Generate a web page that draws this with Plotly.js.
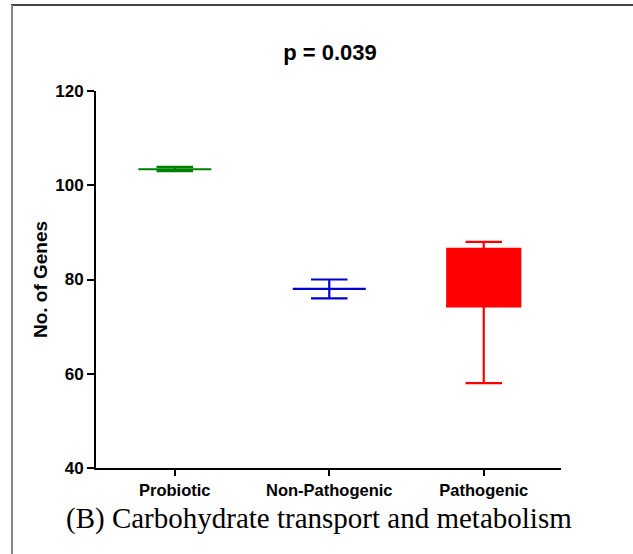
<!DOCTYPE html>
<html>
<head>
<meta charset="utf-8">
<script src="https://cdn.plot.ly/plotly-3.0.1.min.js"></script>
<style>html,body{margin:0;padding:0;background:#fff;}#chart{width:633px;height:554px;}</style>
</head>
<body>
<div id="chart"></div>
<script>
// Data
const categories = ["Probiotic", "Non-Pathogenic", "Pathogenic"];
const q1Values = [103.4, 78, 74.3];
const medianValues = [103.4, 78, 85];
const q3Values = [103.4, 78, 86.5];
const lowerWhisker = [103.0, 76, 58];
const upperWhisker = [103.9, 80, 88];
const colors = ["#008000", "#0000CC", "#FF0000"];
const yTicks = [40, 60, 80, 100, 120];

const traces = categories.map((c, i) => ({
  type: "box",
  x: [c],
  q1: [q1Values[i]],
  median: [medianValues[i]],
  q3: [q3Values[i]],
  lowerfence: [lowerWhisker[i]],
  upperfence: [upperWhisker[i]],
  line: {color: colors[i], width: 2.2},
  fillcolor: colors[i],
  whiskerwidth: 0.5,
  boxpoints: false,
  hoverinfo: "skip",
  showlegend: false
}));

// paper coords for frame lines
const W = 465, H = 377, L = 96, B = 468;
const px = v => (v - L) / W;
const py = v => (B - v) / H;

const sans = "Liberation Sans, Arial, sans-serif";

const layout = {
  width: 633,
  height: 554,
  margin: {l: 96, r: 72, t: 91, b: 86},
  paper_bgcolor: "#ffffff",
  plot_bgcolor: "#ffffff",
  boxgap: 0.325,
  font: {family: sans, color: "#000"},
  title: {
    text: "p = 0.039",
    font: {size: 22, family: sans, weight: "bold", color: "#000"},
    x: 330 / 633, xanchor: "center",
    y: 1 - 52 / 554, yanchor: "middle"
  },
  xaxis: {
    type: "category",
    range: [-0.51, 2.5],
    showline: true, linecolor: "#000", linewidth: 2,
    ticks: "outside", ticklen: 6, tickwidth: 2, tickcolor: "#000",
    showgrid: false, zeroline: false,
    tickfont: {size: 16.5, family: sans, weight: "bold", color: "#000"}
  },
  yaxis: {
    range: [40, 120],
    tickvals: yTicks,
    showline: true, linecolor: "#000", linewidth: 2,
    ticks: "outside", ticklen: 7, tickwidth: 2, tickcolor: "#000",
    showgrid: false, zeroline: false,
    tickfont: {size: 17, family: sans, weight: "bold", color: "#000"},
    title: {
      text: "No. of Genes",
      font: {size: 19, family: sans, weight: "bold", color: "#000"},
      standoff: 3
    }
  },
  shapes: [
    {type: "line", xref: "paper", yref: "paper", x0: px(11), x1: px(640), y0: py(5), y1: py(5), line: {color: "#444", width: 2}},
    {type: "line", xref: "paper", yref: "paper", x0: px(12), x1: px(12), y0: py(5), y1: py(560), line: {color: "#888", width: 2}}
  ],
  annotations: [
    {
      text: "(B) Carbohydrate transport and metabolism",
      xref: "paper", yref: "paper",
      x: px(319), y: py(518), xanchor: "center", yanchor: "middle",
      showarrow: false,
      font: {size: 29, family: "Liberation Serif, Times New Roman, serif", color: "#000"}
    }
  ]
};

Plotly.newPlot("chart", traces, layout, {displayModeBar: false, staticPlot: true});
</script>
</body>
</html>
